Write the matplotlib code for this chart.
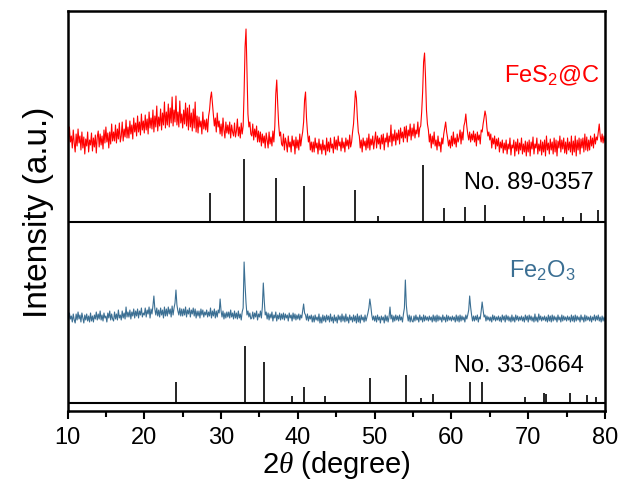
import numpy as np
import matplotlib
matplotlib.use("Agg")
import matplotlib.pyplot as plt

plt.rcParams['font.family'] = ['Liberation Sans', 'DejaVu Sans']
plt.rcParams['mathtext.fontset'] = 'custom'
plt.rcParams['mathtext.rm'] = 'Liberation Sans'
plt.rcParams['mathtext.it'] = 'Liberation Serif:italic'

# ---------------- data ----------------
two_theta_start = 10.0
two_theta_step = 0.125

# FeS2@C measured pattern (a.u.), 10..80 deg every 0.125 deg (8 values per degree)
fes2_c = [
    90, 78, 95, 80, 86, 74, 92, 79,
    70, 88, 76, 93, 79, 86, 72, 90,
    74, 85, 68, 83, 76, 90, 70, 82,
    77, 89, 71, 84, 75, 87, 69, 85,
    91, 75, 88, 77, 86, 73, 92, 79,
    95, 80, 89, 74, 90, 78, 98, 81,
    90, 81, 97, 79, 93, 83, 99, 80,
    86, 100, 81, 93, 85, 102, 84, 95,
    84, 101, 88, 97, 83, 104, 90, 99,
    86, 106, 90, 100, 87, 108, 92, 101,
    89, 107, 92, 103, 88, 110, 94, 104,
    93, 112, 90, 106, 95, 116, 91, 105,
    96, 113, 92, 109, 97, 120, 94, 110,
    97, 118, 95, 114, 99, 125, 96, 112,
    100, 126, 97, 110, 95, 121, 99, 108,
    94, 112, 98, 119, 96, 114, 92, 117,
    95, 109, 91, 113, 94, 120, 90, 106,
    89, 105, 95, 101, 88, 110, 93, 102,
    92, 103, 90, 106, 112, 124, 130, 118,
    107, 96, 104, 90, 109, 95, 101, 88,
    98, 86, 104, 92, 84, 100, 89, 97,
    88, 100, 84, 97, 90, 86, 99, 85,
    91, 103, 86, 95, 84, 99, 88, 96,
    130, 175, 193, 150, 108, 95, 100, 88,
    86, 98, 82, 93, 85, 96, 80, 91,
    80, 90, 76, 88, 79, 86, 74, 89,
    82, 74, 90, 78, 85, 76, 91, 80,
    96, 128, 142, 118, 98, 86, 90, 78,
    76, 88, 72, 84, 79, 70, 86, 75,
    80, 70, 86, 76, 82, 68, 85, 74,
    82, 72, 88, 76, 84, 90, 100, 122,
    130, 104, 90, 80, 86, 72, 80, 70,
    80, 70, 84, 74, 79, 68, 83, 72,
    78, 68, 82, 72, 77, 67, 84, 71,
    80, 70, 84, 74, 78, 69, 85, 73,
    82, 72, 86, 76, 80, 71, 84, 74,
    80, 70, 84, 76, 82, 73, 87, 75,
    80, 90, 98, 115, 131, 124, 104, 90,
    86, 74, 82, 70, 84, 76, 81, 72,
    84, 74, 88, 72, 83, 77, 86, 73,
    82, 90, 74, 86, 78, 84, 73, 87,
    78, 88, 72, 84, 80, 89, 75, 86,
    80, 97, 76, 88, 81, 92, 77, 89,
    82, 92, 78, 94, 84, 90, 80, 95,
    84, 96, 80, 92, 86, 98, 82, 94,
    86, 98, 84, 92, 88, 100, 85, 94,
    96, 110, 130, 160, 169, 145, 112, 98,
    92, 80, 88, 74, 86, 78, 90, 76,
    82, 72, 86, 76, 80, 70, 84, 78,
    88, 94, 100, 90, 84, 76, 82, 74,
    86, 76, 90, 78, 84, 75, 88, 80,
    84, 92, 78, 90, 82, 96, 100, 108,
    96, 88, 82, 90, 80, 88, 82, 91,
    80, 88, 76, 90, 82, 87, 78, 92,
    90, 98, 104, 111, 106, 94, 86, 90,
    82, 88, 74, 84, 78, 86, 73, 83,
    76, 84, 70, 80, 74, 82, 69, 79,
    72, 82, 68, 78, 73, 84, 67, 77,
    74, 82, 66, 80, 71, 83, 68, 79,
    72, 84, 68, 78, 70, 81, 66, 80,
    70, 82, 66, 80, 73, 85, 68, 78,
    74, 84, 68, 78, 71, 82, 67, 80,
    70, 82, 66, 86, 72, 79, 68, 83,
    72, 80, 68, 84, 70, 82, 66, 81,
    74, 86, 70, 82, 73, 84, 69, 80,
    68, 84, 72, 80, 70, 86, 67, 81,
    70, 86, 66, 82, 72, 84, 68, 83,
    74, 84, 70, 88, 72, 85, 71, 82,
    72, 86, 76, 84, 74, 88, 78, 85,
    82, 90, 98, 86, 80, 88, 79, 86,
    80,
]

# Fe2O3 measured pattern (a.u.), 10..80 deg every 0.125 deg (8 values per degree)
fe2o3 = [
    88, 82, 90, 84, 87, 81, 89, 83,
    80, 89, 83, 91, 84, 88, 81, 90,
    85, 80, 88, 83, 89, 82, 87, 81,
    90, 82, 87, 81, 88, 84, 91, 83,
    89, 84, 92, 83, 88, 82, 90, 85,
    87, 81, 90, 85, 92, 83, 89, 84,
    82, 91, 84, 89, 83, 93, 85, 88,
    83, 92, 85, 90, 84, 96, 86, 91,
    86, 93, 84, 91, 87, 94, 85, 92,
    87, 94, 85, 92, 88, 95, 86, 90,
    88, 95, 86, 93, 89, 96, 85, 94,
    89, 97, 107, 94, 88, 95, 87, 93,
    86, 95, 88, 93, 85, 96, 87, 94,
    87, 96, 89, 94, 86, 97, 88, 95,
    100, 113, 98, 92, 88, 95, 87, 94,
    87, 94, 88, 96, 86, 93, 89, 95,
    86, 93, 89, 95, 87, 94, 85, 92,
    87, 92, 85, 94, 88, 93, 86, 91,
    88, 93, 86, 91, 87, 95, 85, 92,
    87, 94, 85, 92, 86, 93, 90, 104,
    92, 86, 92, 84, 90, 85, 91, 86,
    91, 85, 93, 86, 90, 84, 92, 85,
    90, 84, 92, 85, 89, 83, 91, 95,
    141, 118, 100, 88, 92, 86, 90, 84,
    85, 91, 84, 90, 86, 92, 83, 89,
    86, 92, 85, 96, 120, 102, 88, 91,
    84, 90, 83, 89, 85, 91, 82, 88,
    85, 91, 82, 88, 84, 90, 83, 89,
    84, 90, 83, 89, 85, 88, 82, 90,
    85, 88, 82, 90, 84, 89, 83, 88,
    84, 89, 83, 88, 85, 92, 99, 90,
    88, 83, 89, 82, 87, 84, 88, 81,
    87, 81, 88, 83, 86, 82, 89, 80,
    86, 80, 88, 82, 87, 81, 88, 83,
    87, 81, 89, 82, 86, 80, 88, 82,
    86, 80, 88, 83, 87, 81, 89, 82,
    87, 81, 89, 82, 86, 80, 88, 83,
    86, 81, 88, 82, 87, 80, 89, 81,
    87, 80, 88, 83, 86, 81, 88, 82,
    86, 90, 95, 104, 97, 88, 83, 87,
    82, 87, 81, 88, 83, 86, 80, 87,
    83, 86, 80, 88, 82, 87, 81, 86,
    96, 84, 88, 81, 87, 82, 88, 83,
    87, 82, 88, 83, 86, 81, 89, 95,
    123, 98, 88, 82, 88, 81, 87, 82,
    81, 87, 82, 88, 83, 86, 81, 88,
    83, 86, 81, 88, 82, 87, 83, 86,
    82, 87, 83, 86, 81, 88, 82, 87,
    81, 88, 82, 87, 83, 86, 81, 88,
    83, 86, 81, 88, 82, 87, 83, 86,
    82, 87, 83, 86, 81, 88, 82, 87,
    81, 88, 82, 87, 83, 86, 81, 88,
    84, 88, 93, 107, 96, 88, 82, 87,
    82, 87, 83, 88, 81, 86, 84, 92,
    101, 93, 86, 88, 82, 87, 83, 86,
    82, 86, 81, 88, 83, 87, 82, 86,
    83, 87, 82, 86, 81, 88, 83, 87,
    81, 88, 83, 87, 82, 86, 81, 88,
    82, 86, 81, 88, 83, 87, 82, 86,
    83, 87, 82, 86, 81, 88, 83, 87,
    81, 88, 83, 87, 82, 86, 81, 89,
    82, 86, 81, 89, 83, 87, 82, 86,
    83, 87, 82, 86, 81, 88, 82, 87,
    81, 88, 82, 87, 83, 86, 81, 88,
    83, 86, 81, 88, 82, 87, 83, 86,
    82, 87, 83, 86, 81, 88, 82, 87,
    81, 88, 82, 87, 83, 86, 81, 88,
    83, 86, 81, 88, 82, 87, 83, 86,
    82, 87, 81, 86, 83, 88, 82, 87,
    83, 88, 82, 86, 81, 87, 82, 86,
    82,
]

# Reference card FeS2, No. 89-0357
ref_fes2_pos = [28.55, 33.05, 37.1, 40.8, 47.45, 50.5, 56.3, 59.05, 61.75, 64.35,
                69.5, 72.0, 74.5, 76.9, 79.1]
ref_fes2_int = [29, 63, 44, 36, 32, 6, 57, 14, 15, 17, 6, 6, 5, 9, 12]

# Reference card Fe2O3, No. 33-0664
ref_fe2o3_pos = [24.1, 33.15, 35.6, 39.3, 40.85, 43.5, 49.45, 54.05, 56.1, 57.55,
                 62.45, 64.0, 69.6, 72.0, 72.3, 75.45, 77.7, 78.8]
ref_fe2o3_int = [21, 57, 41, 7, 16, 7, 25, 28, 5, 9, 21, 21, 6, 10, 9, 10, 8, 6]

labels = ["FeS$_\\mathregular{2}$@C", "Fe$_\\mathregular{2}$O$_\\mathregular{3}$"]
card_labels = ["No. 89-0357", "No. 33-0664"]
xticks = [10, 20, 30, 40, 50, 60, 70, 80]

assert len(fes2_c) == 561, len(fes2_c)
assert len(fe2o3) == 561, len(fe2o3)

# ---------------- plot ----------------
red = "#ff0000"
blue = "#3b6f93"

fig = plt.figure(figsize=(6.21, 4.85), dpi=100)
ax = fig.add_axes([67.5 / 621, 73 / 485, 537.5 / 621, 400 / 485])

x_fes2 = two_theta_start + two_theta_step * np.arange(len(fes2_c))
x_fe2o3 = two_theta_start + two_theta_step * np.arange(len(fe2o3))

top_base = 189
bot_base = 8

ax.plot(x_fes2, top_base + np.array(fes2_c), color=red, lw=0.8)
ax.plot(x_fe2o3, bot_base + np.array(fe2o3), color=blue, lw=0.8)

ax.vlines(ref_fes2_pos, top_base, top_base + np.array(ref_fes2_int), color='black', lw=1.2)
ax.vlines(ref_fe2o3_pos, bot_base, bot_base + np.array(ref_fe2o3_int), color='black', lw=1.2)

ax.axhline(top_base, color='black', lw=1.5)
ax.axhline(bot_base, color='black', lw=1.5)

ax.text(79.3, 330, labels[0], color=red, fontsize=17, ha='right', va='baseline')
ax.text(78.5, 223, card_labels[0], color='black', fontsize=17, ha='right', va='baseline')
ax.text(76.1, 134, labels[1], color=blue, fontsize=17, ha='right', va='baseline')
ax.text(77.2, 40, card_labels[1], color='black', fontsize=17, ha='right', va='baseline')

ax.set_xlim(10, 80)
ax.set_ylim(0, 400)
ax.set_yticks([])
ax.set_xticks(xticks)
ax.set_xticklabels([str(t) for t in xticks])
ax.set_xticks(np.arange(15, 80, 10), minor=True)
ax.tick_params(axis='x', which='major', direction='out', length=6, width=1.5,
               labelsize=17, pad=5)
ax.tick_params(axis='x', which='minor', direction='out', length=4, width=1.5)
for s in ax.spines.values():
    s.set_linewidth(1.8)

ax.set_xlabel("2$\\mathit{\\theta}$ (degree)", fontsize=21, labelpad=0)
ax.set_ylabel("Intensity (a.u.)", fontsize=24, labelpad=10)

fig.savefig("out.png", dpi=100)
